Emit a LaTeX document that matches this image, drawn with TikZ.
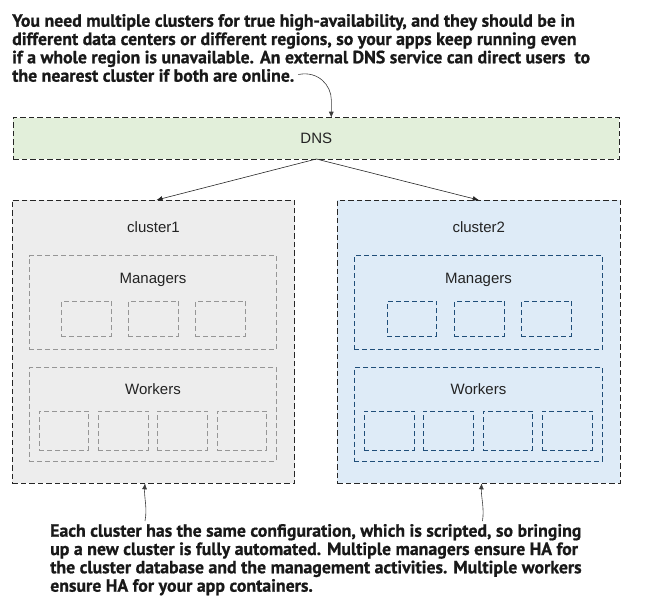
\documentclass[tikz,border=0pt]{standalone}
\usepackage{fontspec}
\setmainfont{Liberation Sans}
\newfontfamily\notefont[BoldFeatures={FakeBold=0.8}]{PT Sans}
\usetikzlibrary{arrows.meta}
\definecolor{dnsfill}{RGB}{226,239,218}
\definecolor{cafill}{RGB}{237,237,237}
\definecolor{cbfill}{RGB}{222,235,247}
\definecolor{cbline}{RGB}{31,78,121}
\definecolor{gline}{RGB}{150,150,150}
\definecolor{txt}{RGB}{35,35,35}
\definecolor{notetxt}{RGB}{25,25,25}
\definecolor{arr}{RGB}{60,60,60}
\begin{document}
\begin{tikzpicture}[x=1pt,y=-1pt,
  outerbox/.style={draw=black!85, line width=0.9pt, dash pattern=on 5.5pt off 3pt, inner sep=0pt, outer sep=0pt, anchor=north west},
  innerbox/.style={draw=gline, line width=0.8pt, dash pattern=on 5pt off 3pt, inner sep=0pt, outer sep=0pt, anchor=north west},
  bluebox/.style={innerbox, draw=cbline},
  lbl/.style={font=\fontsize{15}{18}\selectfont, text=txt, anchor=base, inner sep=0pt},
  noteline/.style={font=\notefont\bfseries\fontsize{17.8}{18}\selectfont, text=notetxt, anchor=base west, inner sep=0pt},
  conn/.style={draw=black!85, line width=0.6pt, -{Latex[length=6pt,width=5pt]}},
  noteconn/.style={draw=arr, line width=0.6pt, -{Latex[length=6pt,width=5pt]}}
]
\useasboundingbox (0,0) rectangle (646,614);

% DNS
\node[outerbox, fill=dnsfill, minimum width=606pt, minimum height=41.3pt] (dns) at (13.3,117.7) {};
\node[lbl] (dnslbl) at (316.3,143.3) {DNS};

% clusters
\node[outerbox, fill=cafill, minimum width=282.4pt, minimum height=283.3pt] (cluster1) at (12.3,200) {};
\node[outerbox, fill=cbfill, minimum width=283pt, minimum height=283.3pt] (cluster2) at (337.3,200) {};
\node[lbl] (c1lbl) at (153.5,232.7) {cluster1};
\node[lbl] (c2lbl) at (478.8,232.7) {cluster2};

% cluster1 inner
\node[innerbox, minimum width=247.4pt, minimum height=93.6pt] (mgr1) at (29.3,255.7) {};
\node[lbl] (mgr1lbl) at (153,283.3) {Managers};
\node[innerbox, minimum width=50.4pt, minimum height=34.7pt] (m1a) at (61.3,301.3) {};
\node[innerbox, minimum width=50.4pt, minimum height=34.7pt] (m1b) at (128.3,301.3) {};
\node[innerbox, minimum width=50.4pt, minimum height=34.7pt] (m1c) at (195.3,301.3) {};
\node[innerbox, minimum width=247.4pt, minimum height=93.3pt] (wrk1) at (29.3,367.7) {};
\node[lbl] (wrk1lbl) at (153,394) {Workers};
\node[innerbox, minimum width=49.4pt, minimum height=39pt] (w1a) at (39.3,411) {};
\node[innerbox, minimum width=50.4pt, minimum height=39pt] (w1b) at (98.3,411) {};
\node[innerbox, minimum width=50.4pt, minimum height=39pt] (w1c) at (157.3,411) {};
\node[innerbox, minimum width=49.4pt, minimum height=39pt] (w1d) at (217.3,411) {};

% cluster2 inner
\node[bluebox, minimum width=248.4pt, minimum height=93.6pt] (mgr2) at (354.3,255.7) {};
\node[lbl] (mgr2lbl) at (478.5,283.3) {Managers};
\node[bluebox, minimum width=49.4pt, minimum height=34.7pt] (m2a) at (387.3,301.3) {};
\node[bluebox, minimum width=50.4pt, minimum height=34.7pt] (m2b) at (454.3,301.3) {};
\node[bluebox, minimum width=50.4pt, minimum height=34.7pt] (m2c) at (521.3,301.3) {};
\node[bluebox, minimum width=248.4pt, minimum height=93.3pt] (wrk2) at (354.3,367.7) {};
\node[lbl] (wrk2lbl) at (478.5,394) {Workers};
\node[bluebox, minimum width=50.4pt, minimum height=39pt] (w2a) at (364.3,411) {};
\node[bluebox, minimum width=50.4pt, minimum height=39pt] (w2b) at (423.3,411) {};
\node[bluebox, minimum width=49.4pt, minimum height=39pt] (w2c) at (483.3,411) {};
\node[bluebox, minimum width=50.4pt, minimum height=39pt] (w2d) at (542.3,411) {};

% DNS arrows
\draw[conn] (dns.south) -- ([xshift=3pt]cluster1.north);
\draw[conn] (dns.south) -- (cluster2.north);

% top note
\node[noteline] (t1) at (12,26.7) {You need multiple clusters for true high-availability, and they should be in};
\node[noteline] (t2) at (12,45) {different data centers or different regions, so your apps keep running even};
\node[noteline] (t3) at (12,63.3) {if a whole region is unavailable. An external DNS service can direct users\ \ to};
\node[noteline] (t4) at (12,81.7) {the nearest cluster if both are online.};
\coordinate (t4end) at ([xshift=4pt,yshift=1pt]t4.east);
\draw[noteconn] (t4end) .. controls +(20,-4) and +(0,-14) .. ([xshift=15pt,yshift=18pt]dns.north) -- ([xshift=15pt]dns.north);

% bottom note
\node[noteline] (b1) at (50,536.7) {Each cluster has the same configuration, which is scripted, so bringing};
\node[noteline] (b2) at (50,555) {up a new cluster is fully automated. Multiple managers ensure HA for};
\node[noteline] (b3) at (50,573.3) {the cluster database and the management activities. Multiple workers};
\node[noteline] (b4) at (50,591.7) {ensure HA for your app containers.};
\coordinate (b1a) at (145,521);
\coordinate (b1b) at (482.5,521);
\draw[noteconn] (b1a) .. controls (147.5,508) and (144,497) .. ([xshift=-8.5pt]cluster1.south);
\draw[noteconn] (b1b) .. controls (484.5,508) and (481,497) .. ([xshift=2.8pt]cluster2.south);
\end{tikzpicture}
\end{document}
